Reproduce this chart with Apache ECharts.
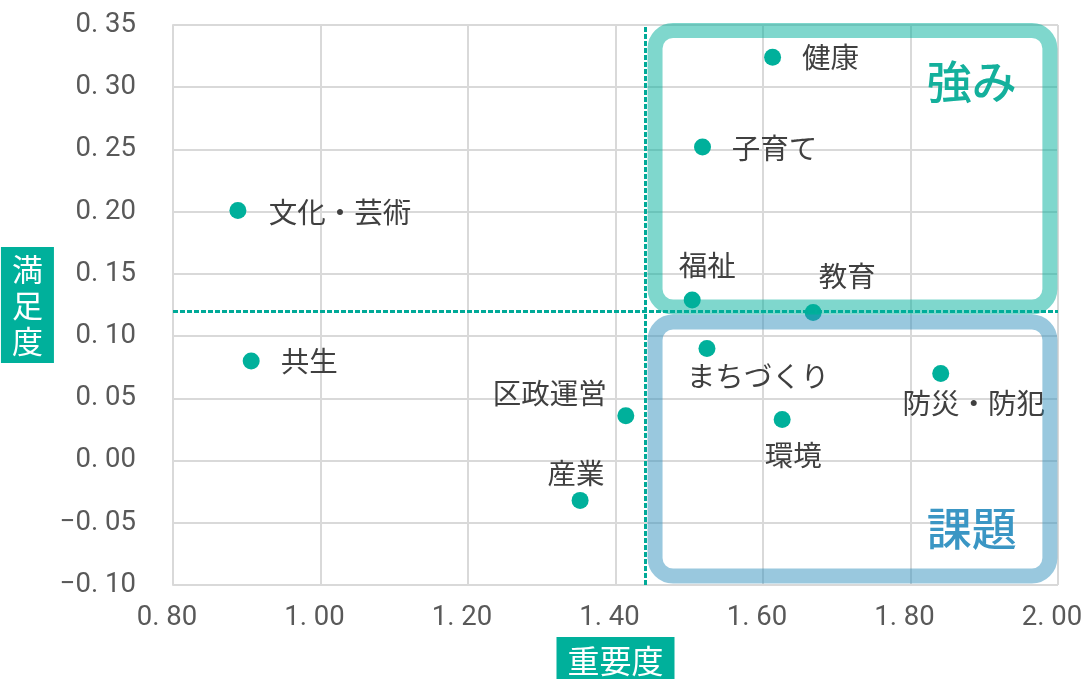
<!DOCTYPE html>
<html>
<head>
<meta charset="utf-8">
<script src="https://cdn.jsdelivr.net/npm/echarts@6/dist/echarts.min.js"></script>
<style>
html,body{margin:0;padding:0;background:#fff;}
#main{width:1081px;height:679px;}
</style>
</head>
<body>
<div id="main"></div>
<script>
// ---- data ----
const categories = ['健康','子育て','文化・芸術','福祉','教育','まちづくり','共生','防災・防犯','区政運営','環境','産業'];
const importance = [1.613, 1.518, 0.888, 1.504, 1.668, 1.524, 0.906, 1.841, 1.414, 1.626, 1.352];
const satisfaction = [0.324, 0.252, 0.201, 0.129, 0.119, 0.090, 0.080, 0.070, 0.036, 0.033, -0.032];
const meanImportance = 1.441;
const meanSatisfaction = 0.119;
const xTicks = [0.8, 1.0, 1.2, 1.4, 1.6, 1.8, 2.0];
const yTicks = [-0.10, -0.05, 0.00, 0.05, 0.10, 0.15, 0.20, 0.25, 0.30, 0.35];
const quadrantNames = ['強み', '課題'];
const axisNames = ['重要度', '満足度'];

// ---- styles ----
const TEAL = '#00b09b';
const labelOffsets = {
  '健康': [58, 0], '子育て': [72, 1], '文化・芸術': [102, 2], '福祉': [15, -35],
  '教育': [34, -36], 'まちづくり': [51, 28], '共生': [58, 0], '防災・防犯': [33, 30],
  '区政運営': [-76, -23], '環境': [11, 36], '産業': [-4, -27]
};
const SYM = 17;
const tickFont = "'Roboto','Noto Sans',sans-serif";
const cjk = "'Noto Sans CJK JP','Noto Sans',sans-serif";

function fmt(v) {
  let s = Math.abs(v).toFixed(2).replace('.', '. ');
  if (v < -1e-9) s = '−' + s;
  return s;
}

const points = categories.map((c, i) => {
  const off = labelOffsets[c];
  return {
    name: c,
    value: [importance[i], satisfaction[i]],
    label: { position: [SYM / 2 + off[0], SYM / 2 + off[1]] }
  };
});

const tickLabel = { formatter: fmt, color: '#595959', fontFamily: tickFont, fontSize: 27.5 };

const chart = echarts.init(document.getElementById('main'), null, { renderer: 'canvas' });
chart.setOption({
  animation: false,
  backgroundColor: '#fff',
  grid: { left: 173, right: 23, top: 25, bottom: 94, containLabel: false, outerBoundsMode: 'none' },
  xAxis: {
    type: 'value', min: xTicks[0], max: xTicks[xTicks.length - 1], interval: 0.2,
    name: axisNames[0], nameLocation: 'middle', nameGap: 51,
    nameTextStyle: { color: '#fff', backgroundColor: TEAL, fontFamily: cjk, fontSize: 32,
      padding: [5, 11, 6, 11], lineHeight: 38, verticalAlign: 'top' },
    axisLine: { show: true, lineStyle: { color: '#d9d9d9', width: 2 } },
    axisTick: { show: false },
    splitLine: { show: true, lineStyle: { color: '#d9d9d9', width: 2 } },
    axisLabel: Object.assign({ margin: 19, padding: [0, 12, 0, 0] }, tickLabel)
  },
  yAxis: {
    type: 'value', min: yTicks[0], max: yTicks[yTicks.length - 1], interval: 0.05,
    name: axisNames[1].split('').join('\n'), nameLocation: 'middle', nameRotate: 0, nameGap: 119,
    nameTextStyle: { color: '#fff', backgroundColor: TEAL, fontFamily: cjk, fontSize: 31,
      lineHeight: 36, padding: [4, 11, 4, 11], align: 'center', verticalAlign: 'middle' },
    axisLine: { show: true, lineStyle: { color: '#d9d9d9', width: 2 } },
    axisTick: { show: false },
    splitLine: { show: true, lineStyle: { color: '#d9d9d9', width: 2 } },
    axisLabel: Object.assign({ margin: 37 }, tickLabel)
  },
  series: [{
    type: 'scatter',
    symbolSize: SYM,
    z: 3,
    itemStyle: { color: TEAL, opacity: 1 },
    label: {
      show: true, formatter: '{b}', color: '#404040', fontFamily: cjk, fontSize: 28.5,
      align: 'center', verticalAlign: 'middle'
    },
    data: points,
    markLine: {
      silent: true, symbol: 'none', label: { show: false },
      lineStyle: { color: '#00aa98', width: 3, type: [5, 2], opacity: 1 },
      data: [{ xAxis: meanImportance }, { yAxis: meanSatisfaction }]
    }
  }]
});

function px(x, y) { return chart.convertToPixel({ gridIndex: 0 }, [x, y]); }
function boxRect(x0, y0, x1, y1, color) {
  const a = px(x0, y0), b = px(x1, y1);
  return {
    type: 'rect', z: 5,
    shape: { x: a[0], y: a[1], width: b[0] - a[0], height: b[1] - a[1], r: 18 },
    style: { fill: 'none', stroke: color, lineWidth: 15 }
  };
}
const gCenter = px(1.883, 0.304);
const bCenter = px(1.883, -0.055);
chart.setOption({
  graphic: [
    boxRect(1.4536, 0.3456, 1.989, 0.1234, 'rgba(0,176,155,0.5)'),
    boxRect(1.4536, 0.1113, 1.989, -0.0928, 'rgba(52,145,190,0.5)'),
    { type: 'text', z: 6, x: gCenter[0], y: gCenter[1],
      style: { text: quadrantNames[0], fill: '#14b09c', font: "500 45px 'Noto Sans CJK JP'", textAlign: 'center', textVerticalAlign: 'middle' } },
    { type: 'text', z: 6, x: bCenter[0], y: bCenter[1],
      style: { text: quadrantNames[1], fill: '#3a96c4', font: "500 45px 'Noto Sans CJK JP'", textAlign: 'center', textVerticalAlign: 'middle' } }
  ]
});
</script>
</body>
</html>
